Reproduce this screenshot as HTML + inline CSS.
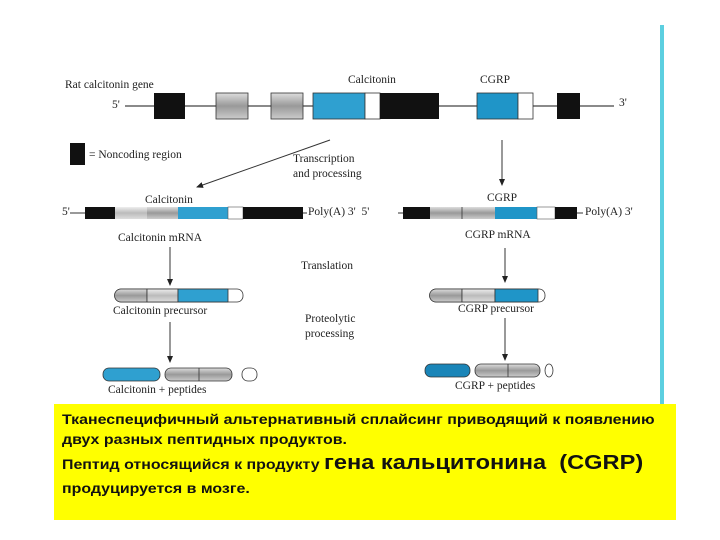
<!DOCTYPE html>
<html><head><meta charset="utf-8"><style>
body{margin:0;width:720px;height:540px;background:#fff;overflow:hidden;position:relative;font-family:"Liberation Serif",serif}
.t{position:absolute;font-size:11.5px;color:#222;white-space:nowrap}
.y{position:absolute;left:54px;top:404px;width:622px;height:116px;background:#ffff00}
.y div{position:absolute;left:8px;font-family:"Liberation Sans",sans-serif;font-weight:bold;font-size:13.5px;color:#111;white-space:nowrap;transform:scaleX(1.18);transform-origin:0 0}
</style></head><body>
<svg width="720" height="540" style="position:absolute;left:0;top:0">
<defs><linearGradient id="g" x1="0" y1="0" x2="0" y2="1"><stop offset="0" stop-color="#ddd"/><stop offset=".5" stop-color="#999"/><stop offset="1" stop-color="#ccc"/></linearGradient>
<linearGradient id="lg" x1="0" y1="0" x2="0" y2="1"><stop offset="0" stop-color="#eee"/><stop offset=".5" stop-color="#bbb"/><stop offset="1" stop-color="#ddd"/></linearGradient>
<marker id="a" markerWidth="8" markerHeight="8" refX="6" refY="4" orient="auto"><path d="M0,1 L7,4 L0,7z" fill="#222"/></marker></defs>
<rect x="660" y="25" width="4" height="380" fill="#5ccfe0"/>
<line x1="125" y1="106" x2="614" y2="106" stroke="#444" stroke-width="1.3"/>
<rect x="154" y="93" width="31" height="26" fill="#111"/>
<rect x="216" y="93" width="32" height="26" fill="url(#g)" stroke="#333" stroke-width=".8"/>
<rect x="271" y="93" width="32" height="26" fill="url(#g)" stroke="#333" stroke-width=".8"/>
<rect x="313" y="93" width="52" height="26" fill="#2fa0d0" stroke="#333" stroke-width=".8"/>
<rect x="365" y="93" width="15" height="26" fill="#fff" stroke="#333" stroke-width=".8"/>
<rect x="380" y="93" width="59" height="26" fill="#111"/>
<rect x="477" y="93" width="41" height="26" fill="#1f95c8" stroke="#333" stroke-width=".8"/>
<rect x="518" y="93" width="15" height="26" fill="#fff" stroke="#333" stroke-width=".8"/>
<rect x="557" y="93" width="23" height="26" fill="#111"/>
<rect x="70" y="143" width="15" height="22" fill="#111"/>
<line x1="330" y1="140" x2="197" y2="187" stroke="#333" stroke-width="1" marker-end="url(#a)"/>
<line x1="502" y1="140" x2="502" y2="185" stroke="#333" stroke-width="1" marker-end="url(#a)"/>
<line x1="70" y1="213" x2="307" y2="213" stroke="#333"/>
<rect x="85" y="207" width="30" height="12" fill="#111"/>
<rect x="115" y="207" width="32" height="12" fill="url(#lg)"/>
<rect x="147" y="207" width="31" height="12" fill="url(#g)"/>
<rect x="178" y="207" width="50" height="12" fill="#2fa0d0"/>
<rect x="228" y="207" width="15" height="12" fill="#fff" stroke="#555" stroke-width=".6"/>
<rect x="243" y="207" width="60" height="12" fill="#111"/>
<line x1="398" y1="213" x2="583" y2="213" stroke="#333"/>
<rect x="403" y="207" width="27" height="12" fill="#111"/>
<rect x="430" y="207" width="32" height="12" fill="url(#g)"/>
<rect x="462" y="207" width="33" height="12" fill="url(#g)"/>
<line x1="462" y1="207" x2="462" y2="219" stroke="#333" stroke-width=".8"/>
<rect x="495" y="207" width="42" height="12" fill="#1f95c8"/>
<rect x="537" y="207" width="18" height="12" fill="#fff" stroke="#555" stroke-width=".6"/>
<rect x="555" y="207" width="22" height="12" fill="#111"/>
<line x1="170" y1="247" x2="170" y2="285" stroke="#333" marker-end="url(#a)"/>
<line x1="505" y1="248" x2="505" y2="282" stroke="#333" marker-end="url(#a)"/>
<g stroke="#333" stroke-width=".8">
<rect x="115" y="289" width="128" height="13" rx="6" fill="#fff"/>
<path d="M121,289 H147 V302 H121 A6,6 0 0 1 121,289z" fill="url(#g)"/>
<rect x="147" y="289" width="31" height="13" fill="url(#lg)"/>
<rect x="178" y="289" width="50" height="13" fill="#2fa0d0"/>
<rect x="430" y="289" width="115" height="13" rx="6" fill="#fff"/>
<path d="M436,289 H462 V302 H436 A6,6 0 0 1 436,289z" fill="url(#g)"/>
<rect x="462" y="289" width="33" height="13" fill="url(#lg)"/>
<rect x="495" y="289" width="43" height="13" fill="#1f95c8"/>
</g>
<line x1="170" y1="322" x2="170" y2="362" stroke="#333" marker-end="url(#a)"/>
<line x1="505" y1="318" x2="505" y2="360" stroke="#333" marker-end="url(#a)"/>
<g stroke="#333" stroke-width=".8">
<rect x="103" y="368" width="57" height="13" rx="6" fill="#2fa0d0"/>
<rect x="165" y="368" width="67" height="13" rx="6" fill="url(#g)"/>
<line x1="199" y1="368" x2="199" y2="381"/>
<rect x="242" y="368" width="15" height="13" rx="6" fill="#fff"/>
<rect x="425" y="364" width="45" height="13" rx="6" fill="#1a85b8"/>
<rect x="475" y="364" width="65" height="13" rx="6" fill="url(#g)"/>
<line x1="508" y1="364" x2="508" y2="377"/>
<ellipse cx="549" cy="370.5" rx="4" ry="6.5" fill="#fff"/>
</g>
</svg>
<div class="t" style="left:65px;top:79px">Rat calcitonin gene</div>
<div class="t" style="left:348px;top:74px">Calcitonin</div>
<div class="t" style="left:480px;top:74px">CGRP</div>
<div class="t" style="left:112px;top:99px">5'</div>
<div class="t" style="left:619px;top:97px">3'</div>
<div class="t" style="left:89px;top:149px">= Noncoding region</div>
<div class="t" style="left:293px;top:152px;line-height:15px">Transcription<br>and processing</div>
<div class="t" style="left:145px;top:194px">Calcitonin</div>
<div class="t" style="left:487px;top:192px">CGRP</div>
<div class="t" style="left:62px;top:206px">5'</div>
<div class="t" style="left:308px;top:206px">Poly(A) 3'&nbsp; 5'</div>
<div class="t" style="left:585px;top:206px">Poly(A) 3'</div>
<div class="t" style="left:118px;top:232px">Calcitonin mRNA</div>
<div class="t" style="left:465px;top:229px">CGRP mRNA</div>
<div class="t" style="left:301px;top:260px">Translation</div>
<div class="t" style="left:113px;top:305px">Calcitonin precursor</div>
<div class="t" style="left:458px;top:303px">CGRP precursor</div>
<div class="t" style="left:305px;top:312px;line-height:15px">Proteolytic<br>processing</div>
<div class="t" style="left:108px;top:384px">Calcitonin + peptides</div>
<div class="t" style="left:455px;top:380px">CGRP + peptides</div>
<div class="y">
<div style="top:8px">Тканеспецифичный альтернативный сплайсинг приводящий к появлению</div>
<div style="top:28px">двух разных пептидных продуктов.</div>
<div style="top:48px">Пептид относящийся к продукту <span style="font-size:20px">гена кальцитонина&nbsp; (CGRP)</span></div>
<div style="top:77px">продуцируется в мозге.</div>
</div>
</body></html>
